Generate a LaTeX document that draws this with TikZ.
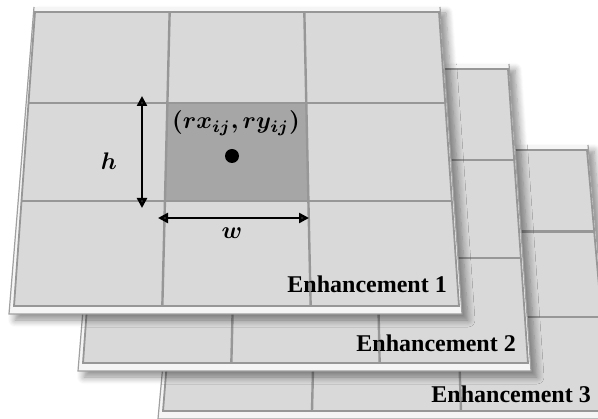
\documentclass[tikz,border=0pt]{standalone}
\usepackage{graphicx}
\usepackage{bm}
\usepackage{fontspec}
\setmainfont{Liberation Serif}
\usetikzlibrary{calc,arrows.meta,shadows.blur}

\definecolor{platefill}{HTML}{D9D9D9}
\definecolor{rimfill}{HTML}{F5F5F5}
\definecolor{rimgray}{HTML}{A0A0A0}
\definecolor{gridgray}{HTML}{979797}
\definecolor{cellgray}{HTML}{A6A6A6}

\tikzset{
  rim/.style={fill=rimfill,
    blur shadow={shadow xshift=6pt, shadow yshift=-6pt,
      shadow blur radius=7pt, shadow blur steps=8, shadow opacity=45}},
  rimline/.style={draw=rimgray, line width=1.2pt},
  plate/.style={fill=platefill, draw=gridgray, line width=1.8pt},
  gridline/.style={draw=gridgray, line width=2.4pt},
  cell/.style={fill=cellgray},
  lbl/.style={font=\bfseries\fontsize{24}{28}\selectfont, inner sep=0pt},
  mathlbl/.style={inner sep=0pt},
  dim/.style={line width=2.4pt,
    {Triangle[length=10pt,width=10pt]}-{Triangle[length=10pt,width=10pt]}},
}
% bold math set at a large size
\newcommand\bigmath[1]{\scalebox{2.4}{$\bm{#1}$}}

% one plate: prefix, top-left, top-right, bottom-right, bottom-left, row fractions
\newcommand\layerplate[7]{%
  \coordinate (#1tl) at (#2);
  \coordinate (#1tr) at (#3);
  \coordinate (#1br) at (#4);
  \coordinate (#1bl) at (#5);
  \coordinate (#1otl) at ($(#1tl)+(-1,-5)$);
  \coordinate (#1otr) at ($(#1tr)+(1,-5)$);
  \coordinate (#1obr) at ($(#1br)+(3,8)$);
  \coordinate (#1obl) at ($(#1bl)+(-5,8)$);
  \path[rim] (#1otl) -- (#1otr) -- (#1obr) -- (#1obl) -- cycle;
  \draw[rimline] (#1otl) -- (#1obl) -- (#1obr) -- (#1otr);
  \path[plate] (#1tl) -- (#1tr) -- (#1br) -- (#1bl) -- cycle;
  \coordinate (#1t1) at ($(#1tl)!1/3!(#1tr)$);
  \coordinate (#1t2) at ($(#1tl)!2/3!(#1tr)$);
  \coordinate (#1b1) at ($(#1bl)!1/3!(#1br)$);
  \coordinate (#1b2) at ($(#1bl)!2/3!(#1br)$);
  \coordinate (#1l1) at ($(#1tl)!#6!(#1bl)$);
  \coordinate (#1l2) at ($(#1tl)!#7!(#1bl)$);
  \coordinate (#1r1) at ($(#1tr)!#6!(#1br)$);
  \coordinate (#1r2) at ($(#1tr)!#7!(#1br)$);
}
\newcommand\layergrid[1]{%
  \draw[gridline] (#1t1) -- (#1b1);
  \draw[gridline] (#1t2) -- (#1b2);
  \draw[gridline] (#1l1) -- (#1r1);
  \draw[gridline] (#1l2) -- (#1r2);
}

\begin{document}
\begin{tikzpicture}[x=1pt, y=-1pt]
  \useasboundingbox (0,0) rectangle (598,419);
  \clip (0,0) rectangle (598,419);

  % back plate
  \layerplate{c}{184,150}{587,150}{610,411}{163,411}{0.313}{0.641}
  \layergrid{c}
  \node[lbl, anchor=base east] (e3) at (591,403) {Enhancement 3};

  % middle plate
  \layerplate{b}{104,69}{508,69}{528,363}{83,363}{0.31}{0.643}
  \layergrid{b}
  \node[lbl, anchor=base east] (e2) at (516,352) {Enhancement 2};

  % front plate with the highlighted region
  \layerplate{a}{35,12}{439,12}{459,306}{14,306}{0.31}{0.643}
  \fill[cell] (intersection of at1--ab1 and al1--ar1)
     -- (intersection of at2--ab2 and al1--ar1)
     -- (intersection of at2--ab2 and al2--ar2)
     -- (intersection of at1--ab1 and al2--ar2) -- cycle;
  \layergrid{a}
  \node[lbl, anchor=base east] (e1) at (447,293) {Enhancement 1};

  % region centre and its size
  \node[circle, fill=black, inner sep=0pt, minimum size=14pt] (ctr) at (232,156) {};
  \node[mathlbl] (pos) at (236,123) {\bigmath{(rx_{ij},ry_{ij})}};

  \coordinate (htop) at (142,96);
  \coordinate (hbot) at (142,208);
  \draw[dim] (htop) -- (hbot);
  \node[mathlbl] (hlab) at (109,161) {\bigmath{h}};

  \coordinate (wleft) at (158,218);
  \coordinate (wright) at (309,218);
  \draw[dim] (wleft) -- (wright);
  \node[mathlbl] (wlab) at (232,233) {\bigmath{w}};
\end{tikzpicture}
\end{document}
